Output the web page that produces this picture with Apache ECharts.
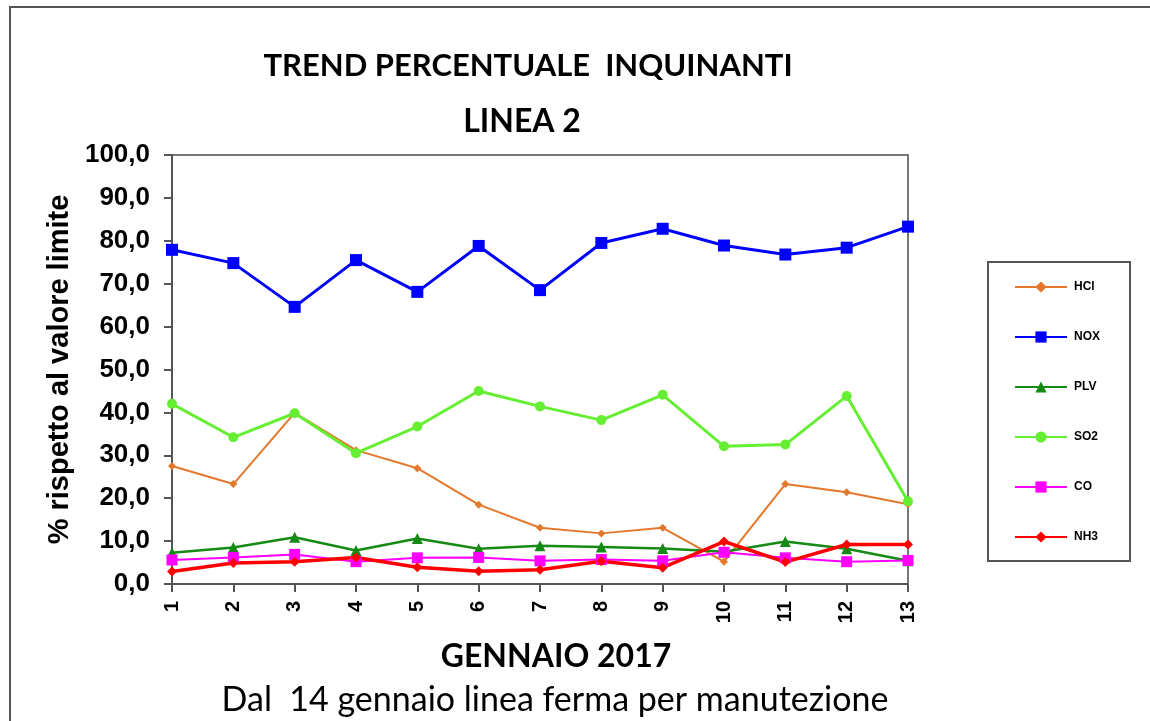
<!DOCTYPE html>
<html>
<head>
<meta charset="utf-8">
<script src="https://cdn.jsdelivr.net/npm/echarts@6/dist/echarts.min.js"></script>
<style>
  html, body { margin: 0; padding: 0; background: #fff; }
  #chart { width: 1150px; height: 721px; }
</style>
</head>
<body>
<div id="chart"></div>
<script>
// giorni di gennaio
const days = ['1', '2', '3', '4', '5', '6', '7', '8', '9', '10', '11', '12', '13'];
const yTicks = [0, 10, 20, 30, 40, 50, 60, 70, 80, 90, 100];

// valori percentuali
const hcl = [27.5, 23.3, 39.9, 31.2, 27.0, 18.5, 13.1, 11.8, 13.1, 5.2, 23.3, 21.4, 18.6];
const nox = [77.9, 74.8, 64.6, 75.5, 68.1, 78.8, 68.5, 79.5, 82.8, 78.9, 76.8, 78.4, 83.3];
const plv = [7.3, 8.5, 10.9, 7.8, 10.6, 8.2, 8.9, 8.6, 8.3, 7.5, 9.9, 8.2, 5.4];
const so2 = [42.0, 34.2, 39.8, 30.5, 36.7, 45.0, 41.4, 38.2, 44.1, 32.1, 32.5, 43.8, 19.3];
const co  = [5.6, 6.2, 6.9, 5.2, 6.1, 6.2, 5.4, 5.7, 5.4, 7.4, 6.1, 5.2, 5.5];
const nh3 = [2.9, 4.9, 5.2, 6.2, 3.9, 3.0, 3.3, 5.3, 3.8, 9.9, 5.1, 9.2, 9.2];

const chart = echarts.init(document.getElementById('chart'));

function serie(name, data, color, symbol, size, width) {
    return {
        name: name,
        type: 'line',
        data: data,
        symbol: symbol,
        symbolSize: size,
        lineStyle: { color: color, width: width },
        itemStyle: { color: color },
        emphasis: { disabled: true },
        animation: false
    };
}

const option = {
    backgroundColor: '#fff',
    graphic: [
        {
            type: 'rect',
            shape: { x: 10, y: 7, width: 1160, height: 740 },
            style: { fill: 'none', stroke: '#555', lineWidth: 2 },
            silent: true
        },
        {
            type: 'text', x: 528, y: 66,
            style: { text: 'TREND PERCENTUALE  INQUINANTI', fill: '#000', font: 'bold 31px Lato', textAlign: 'center', textVerticalAlign: 'middle' }
        },
        {
            type: 'text', x: 522, y: 122,
            style: { text: 'LINEA 2', fill: '#000', font: 'bold 32px Lato', textAlign: 'center', textVerticalAlign: 'middle' }
        },
        {
            type: 'text', x: 556, y: 657,
            style: { text: 'GENNAIO 2017', fill: '#000', font: 'bold 32px Lato', textAlign: 'center', textVerticalAlign: 'middle' }
        },
        {
            type: 'text', x: 555, y: 700,
            style: { text: 'Dal  14 gennaio linea ferma per manutezione', fill: '#000', font: '34px Lato', textAlign: 'center', textVerticalAlign: 'middle' }
        }
    ],
    legend: {
        orient: 'vertical',
        left: 988,
        top: 262,
        width: 132,
        padding: [19, 30, 18, 26],
        itemGap: 38,
        itemWidth: 52,
        itemHeight: 14,
        borderColor: '#555',
        borderWidth: 2,
        backgroundColor: '#fff',
        textStyle: { fontFamily: 'Liberation Sans', fontWeight: 'bold', fontSize: 12, color: '#000', padding: [0, 0, 0, 2] },
        data: ['HCl', 'NOX', 'PLV', 'SO2', 'CO', 'NH3']
    },
    grid: {
        left: 172,
        right: 242,
        top: 155,
        bottom: 137,
        show: true,
        borderColor: '#777',
        borderWidth: 2
    },
    xAxis: {
        type: 'category',
        data: days,
        boundaryGap: false,
        axisLine: { lineStyle: { color: '#555', width: 2 } },
        axisTick: { show: true, alignWithLabel: true, length: 8, lineStyle: { color: '#555', width: 2 } },
        axisLabel: { rotate: 90, margin: 17, fontFamily: 'Liberation Sans', fontWeight: 'bold', fontSize: 20, color: '#000' },
        splitLine: { show: false }
    },
    yAxis: {
        type: 'value',
        min: yTicks[0],
        max: yTicks[yTicks.length - 1],
        interval: 10,
        name: '% rispetto al valore limite',
        nameLocation: 'middle',
        nameRotate: 90,
        nameGap: 86,
        nameTextStyle: { fontFamily: 'Liberation Sans', fontWeight: 'bold', fontSize: 29, color: '#000' },
        axisLine: { show: true, lineStyle: { color: '#555', width: 2 } },
        axisTick: { show: true, length: 8, lineStyle: { color: '#555', width: 2 } },
        axisLabel: {
            margin: 22,
            fontFamily: 'Liberation Sans',
            fontWeight: 'bold',
            fontSize: 26,
            color: '#000',
            formatter: function (v) { return v.toFixed(1).replace('.', ','); }
        },
        splitLine: { show: false }
    },
    series: [
        serie('HCl', hcl, '#e3782c', 'diamond', 8, 2),
        serie('NOX', nox, '#0000ff', 'rect', 12, 3),
        serie('PLV', plv, '#158a15', 'triangle', 11, 2.5),
        serie('SO2', so2, '#66ee33', 'circle', 10, 3),
        serie('CO', co, '#ff00ff', 'rect', 11, 2),
        serie('NH3', nh3, '#ff0000', 'diamond', 10, 3.5)
    ]
};

chart.setOption(option);
</script>
</body>
</html>
